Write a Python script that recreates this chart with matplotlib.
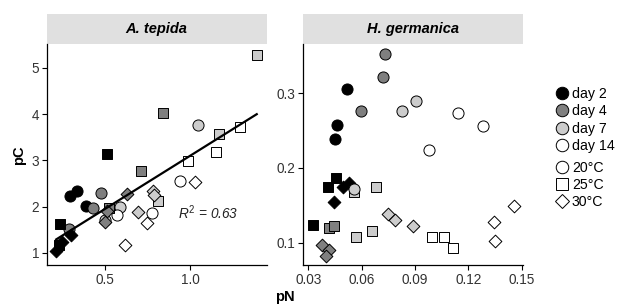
import matplotlib
matplotlib.use('Agg')
import matplotlib.pyplot as plt
from matplotlib.lines import Line2D
from matplotlib.patches import Rectangle
import numpy as np

plt.rcParams.update({
    'font.family': ['Liberation Sans', 'DejaVu Sans'],
    'font.size': 9.5,
    'mathtext.fontset': 'custom',
    'mathtext.rm': 'Liberation Sans',
    'mathtext.it': 'Liberation Sans:italic',
})

# ---- data: A. tepida ----
tep_pN = [0.29, 0.335, 0.385, 0.473, 0.43, 0.286, 1.05, 0.587, 0.498, 0.941, 0.774, 0.567,
          0.51, 0.23, 0.225, 0.843, 0.711, 0.52, 1.394, 1.172, 0.81, 1.296, 1.152, 0.987,
          0.21, 0.245, 0.30, 0.626, 0.51, 0.50, 0.783, 0.79, 0.695, 1.03, 0.745, 0.616]
tep_pC = [2.23, 2.33, 2.02, 2.30, 1.97, 1.51, 3.77, 2.00, 1.71, 2.56, 1.87, 1.82,
          3.13, 1.63, 1.17, 4.03, 2.78, 1.96, 5.28, 3.56, 2.13, 3.71, 3.19, 2.98,
          1.05, 1.23, 1.38, 2.27, 1.90, 1.67, 2.34, 2.25, 1.89, 2.54, 1.64, 1.17]
tep_day = [2, 2, 2, 4, 4, 4, 7, 7, 7, 14, 14, 14,
           2, 2, 2, 4, 4, 4, 7, 7, 7, 14, 14, 14,
           2, 2, 2, 4, 4, 4, 7, 7, 7, 14, 14, 14]
tep_temp = [20] * 12 + [25] * 12 + [30] * 12

# ---- data: H. germanica ----
ger_pN = [0.0516, 0.0463, 0.045, 0.0731, 0.0719, 0.0596, 0.0825, 0.0904, 0.1144, 0.1284, 0.0979,
          0.0413, 0.0458, 0.0328, 0.0418, 0.0445, 0.0559, 0.0679, 0.0568, 0.0658,
          0.0998, 0.1065, 0.1112,
          0.0497, 0.0531, 0.0446, 0.0375, 0.0418, 0.040, 0.075, 0.0788, 0.0887,
          0.1459, 0.1346, 0.135, 0.0559]
ger_pC = [0.306, 0.257, 0.239, 0.352, 0.322, 0.276, 0.276, 0.290, 0.273, 0.256, 0.2245,
          0.175, 0.186, 0.124, 0.120, 0.123, 0.168, 0.174, 0.108, 0.1165,
          0.1085, 0.1085, 0.0933,
          0.175, 0.180, 0.154, 0.097, 0.090, 0.083, 0.139, 0.130, 0.122,
          0.149, 0.1276, 0.103, 0.172]
ger_day = [2, 2, 2, 4, 4, 4, 7, 7, 14, 14, 14,
           2, 2, 2, 4, 4, 7, 7, 7, 7, 14, 14, 14,
           2, 2, 2, 4, 4, 4, 7, 7, 7, 14, 14, 14, 7]
ger_temp = [20] * 11 + [25] * 12 + [30] * 12 + [20]

days = [2, 4, 7, 14]
temps = [20, 25, 30]
day_colors = {2: '#000000', 4: '#7f7f7f', 7: '#cccccc', 14: '#ffffff'}
temp_marker = {20: 'o', 25: 's', 30: 'D'}
temp_size = {20: 64, 25: 52, 30: 42}

TXT = '#333333'
STRIP = '#e0e0e0'

fig = plt.figure(figsize=(6.18, 3.07), dpi=100)
ax1 = fig.add_axes([0.0756, 0.1368, 0.356, 0.7189])
ax2 = fig.add_axes([0.4908, 0.1368, 0.356, 0.7189])


def draw_points(ax, xs, ys, ds, ts):
    for i in range(len(xs)):
        ax.scatter(xs[i], ys[i], s=temp_size[ts[i]], marker=temp_marker[ts[i]],
                   facecolor=day_colors[ds[i]], edgecolor='black', linewidth=0.7,
                   zorder=3, clip_on=False)


def style(ax, title):
    for sp in ['top', 'right']:
        ax.spines[sp].set_visible(False)
    for sp in ['left', 'bottom']:
        ax.spines[sp].set_linewidth(0.9)
    ax.tick_params(length=3.5, width=0.8, colors='black', labelcolor=TXT,
                   labelsize=9.8, pad=2)
    ax.add_patch(Rectangle((0, 1.0), 1, 0.1 / 0.7189 * 1.0, transform=ax.transAxes,
                           facecolor=STRIP, edgecolor='none', clip_on=False))
    ax.text(0.5, 1.0 + 0.05 / 0.7189, title, transform=ax.transAxes, ha='center',
            va='center', fontsize=10.5, fontweight='bold', fontstyle='italic')


draw_points(ax1, tep_pN, tep_pC, tep_day, tep_temp)
draw_points(ax2, ger_pN, ger_pC, ger_day, ger_temp)

# regression line for A. tepida
slope, icpt = np.polyfit(tep_pN, tep_pC, 1)
xl = np.array([min(tep_pN), max(tep_pN)])
ax1.plot(xl, slope * xl + icpt, color='black', linewidth=1.6, zorder=4)
ax1.text(1.107, 1.86, r'$R^{2}$ = 0.63', fontstyle='italic', ha='center', va='center',
         fontsize=9.8, color='#222222')

ax1.set_xlim(0.154, 1.453)
ax1.set_ylim(0.74, 5.505)
ax1.set_xticks([0.5, 1.0])
ax1.set_xticklabels(['0.5', '1.0'])
ax1.set_yticks([1, 2, 3, 4, 5])

ax2.set_xlim(0.0272, 0.1509)
ax2.set_ylim(0.0705, 0.365)
ax2.set_xticks([0.03, 0.06, 0.09, 0.12, 0.15])
ax2.set_xticklabels(['0.03', '0.06', '0.09', '0.12', '0.15'])
ax2.set_yticks([0.1, 0.2, 0.3])
ax2.set_yticklabels(['0.1', '0.2', '0.3'])

style(ax1, 'A. tepida')
style(ax2, 'H. germanica')

fig.text(285 / 618, 1 - 297 / 307, 'pN', ha='center', va='center', fontsize=10.5,
         fontweight='bold')
fig.text(19 / 618, 1 - 155 / 307, 'pC', ha='center', va='center', fontsize=10.5,
         fontweight='bold', rotation=90)

# legends
day_handles = [Line2D([], [], marker='o', linestyle='none', markersize=9,
                      markerfacecolor=day_colors[d], markeredgecolor='black',
                      markeredgewidth=0.7, label='day %d' % d) for d in days]
temp_handles = [Line2D([], [], marker=temp_marker[t], linestyle='none',
                       markersize={20: 9, 25: 8.5, 30: 7.5}[t],
                       markerfacecolor='white', markeredgecolor='black',
                       markeredgewidth=0.7, label='%d°C' % t) for t in temps]
leg_kw = dict(loc='upper left', frameon=False, handlelength=0.9, handletextpad=0.25,
              labelspacing=0.24, borderaxespad=0, borderpad=0, fontsize=10.2)
fig.legend(handles=day_handles, bbox_to_anchor=(555.5 / 618, 1 - 87 / 307), **leg_kw)
fig.legend(handles=temp_handles, bbox_to_anchor=(555.5 / 618, 1 - 160.5 / 307), **leg_kw)

fig.savefig('out.png', dpi=100, facecolor='white')
